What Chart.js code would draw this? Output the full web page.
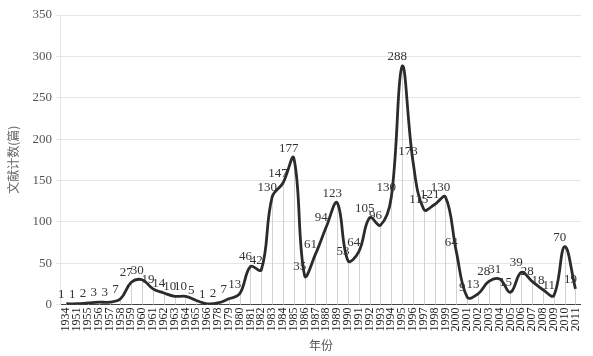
<!DOCTYPE html>
<html>
<head>
<meta charset="utf-8">
<script src="https://cdn.jsdelivr.net/npm/chart.js@4.4.0/dist/chart.umd.min.js"></script>
<style>
  html, body { margin: 0; padding: 0; background: #fff; }
  #wrap { width: 593px; height: 356px; }
</style>
</head>
<body>
<div id="wrap"><canvas id="chartYears"></canvas></div>
<script>
const years = ["1934", "1951", "1955", "1956", "1957", "1958", "1959", "1960", "1961", "1962",
  "1963", "1964", "1965", "1966", "1978", "1979", "1980", "1981", "1982", "1983",
  "1984", "1985", "1986", "1987", "1988", "1989", "1990", "1991", "1992", "1993",
  "1994", "1995", "1996", "1997", "1998", "1999", "2000", "2001", "2002", "2003",
  "2004", "2005", "2006", "2007", "2008", "2009", "2010", "2011"];
const counts = [1, 1, 2, 3, 3, 7, 27, 30, 19, 14,
  10, 10, 5, 1, 2, 7, 13, 46, 42, 130,
  147, 177, 35, 61, 94, 123, 53, 64, 105, 96,
  130, 288, 173, 115, 121, 130, 64, 9, 13, 28,
  31, 15, 39, 28, 18, 11, 70, 19];
const yTicks = [0, 50, 100, 150, 200, 250, 300, 350];

const serif = "'Liberation Serif', 'DejaVu Serif', serif";

// vertical drop lines from each point down to the x axis + value labels
const dropLines = {
  id: "dropLines",
  beforeDatasetsDraw(chart) {
    const ctx = chart.ctx;
    const meta = chart.getDatasetMeta(0);
    const bottom = chart.scales.y.getPixelForValue(0);
    ctx.save();
    ctx.strokeStyle = "#d2d2d2";
    ctx.lineWidth = 1;
    meta.data.forEach((pt) => {
      ctx.beginPath();
      ctx.moveTo(Math.round(pt.x) + 0.5, pt.y);
      ctx.lineTo(Math.round(pt.x) + 0.5, bottom);
      ctx.stroke();
    });
    ctx.restore();
  },
  afterDatasetsDraw(chart) {
    const ctx = chart.ctx;
    const meta = chart.getDatasetMeta(0);
    ctx.save();
    ctx.fillStyle = "#333";
    ctx.font = "13px " + serif;
    ctx.textAlign = "center";
    ctx.textBaseline = "bottom";
    meta.data.forEach((pt, i) => {
      ctx.fillText(String(counts[i]), pt.x - 5, pt.y - 3);
    });
    ctx.restore();
  }
};

new Chart(document.getElementById("chartYears"), {
  type: "line",
  data: {
    labels: years,
    datasets: [
      {
        data: counts,
        borderColor: "#2b2b2b",
        borderWidth: 2.8,
        tension: 0.4,
        pointRadius: 0,
        fill: false,
      },
    ],
  },
  options: {
    responsive: true,
    maintainAspectRatio: false,
    animation: false,
    layout: { padding: { top: 15, right: 10, left: 6, bottom: 3 } },
    plugins: {
      legend: { display: false },
      tooltip: { enabled: false },
    },
    scales: {
      x: {
        offset: true,
        grid: { display: false, drawTicks: false },
        border: { color: "#444", width: 1 },
        ticks: {
          autoSkip: false,
          maxRotation: 90,
          minRotation: 90,
          padding: 3,
          color: "#222",
          font: { family: serif, size: 12 },
        },
        title: {
          display: true,
          text: "年份",
          color: "#555",
          padding: { top: 4, bottom: 0 },
          font: { family: "'Noto Sans CJK SC', sans-serif", size: 12 },
        },
      },
      y: {
        min: 0,
        max: 350,
        afterBuildTicks: (axis) => {
          axis.ticks = yTicks.map((v) => ({ value: v }));
        },
        grid: { color: "#e6e6e6", tickLength: 5, tickColor: "#e6e6e6" },
        border: { color: "#e6e6e6" },
        ticks: {
          color: "#555",
          padding: 4,
          font: { family: serif, size: 13 },
        },
        title: {
          display: true,
          text: "文献计数(篇)",
          color: "#666",
          padding: { top: 0, bottom: 8 },
          font: { family: "'Noto Sans CJK SC', sans-serif", size: 12 },
        },
      },
    },
  },
  plugins: [dropLines],
});
</script>
</body>
</html>
